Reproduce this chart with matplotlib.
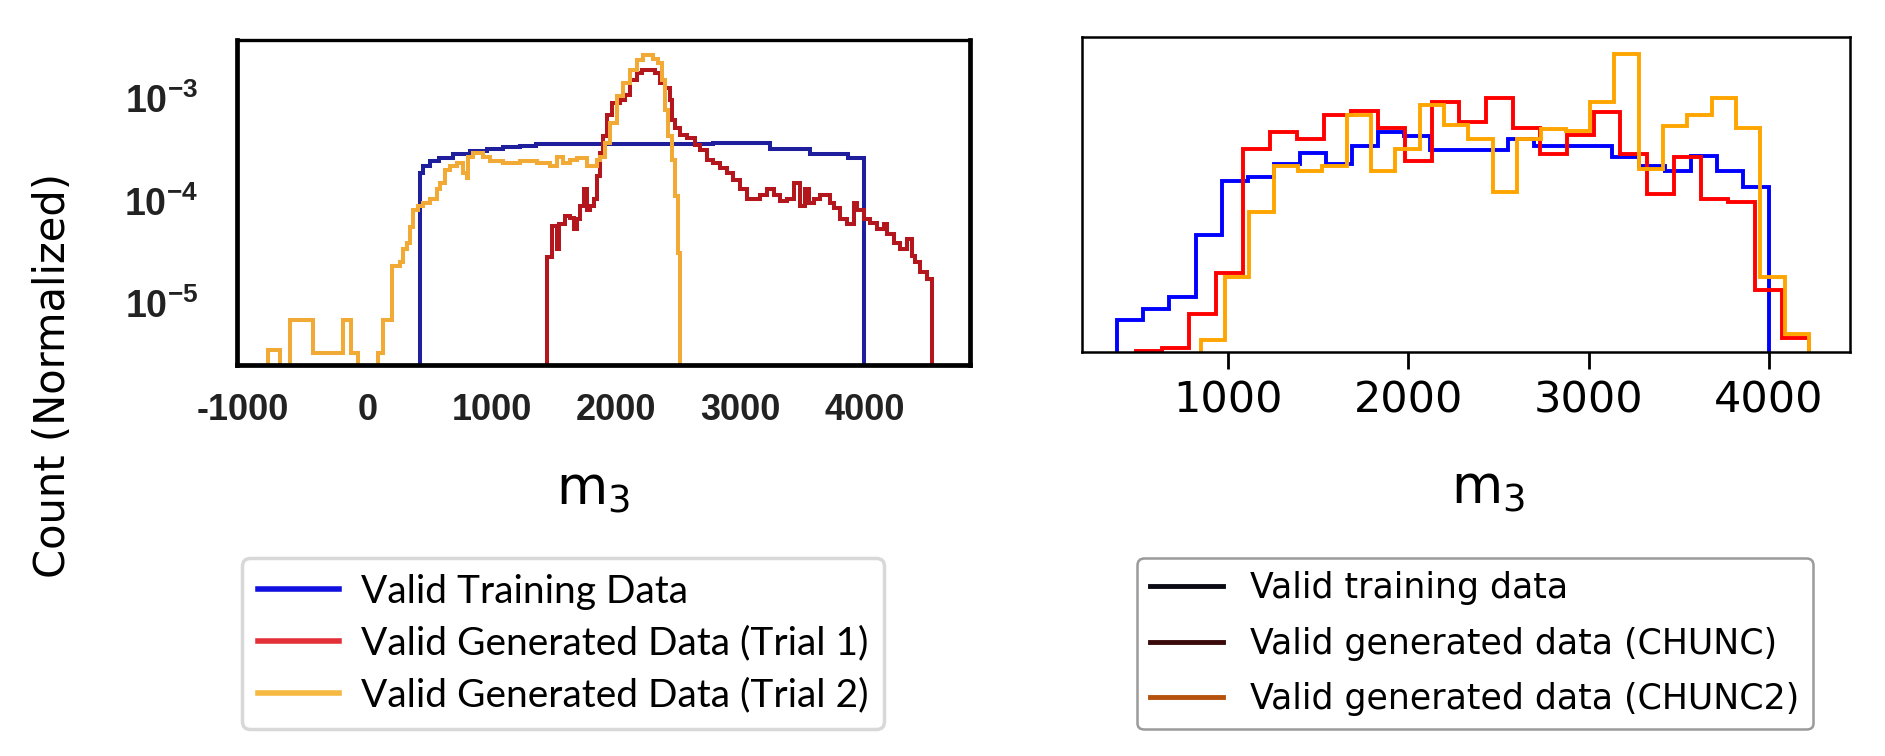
import numpy as np
import matplotlib
matplotlib.use("Agg")
import matplotlib.pyplot as plt
from matplotlib.lines import Line2D

plt.rcParams['mathtext.default'] = 'regular'

# ==========================================================
# Left panel: m3 histograms (log scale)
# ==========================================================

train_edges = [420, 450, 500, 580, 690, 825, 960, 1095, 1230, 1360,
               2780, 3240, 3565, 3865, 4000]
train_vals = [1.87e-4, 2.17e-4, 2.43e-4, 2.61e-4, 2.86e-4, 3.03e-4, 3.2e-4,
              3.32e-4, 3.45e-4, 3.55e-4, 3.66e-4, 3.2e-4, 2.86e-4, 2.61e-4]

trial1_edges = [1445, 1485, 1525, 1545, 1590, 1630, 1660, 1685, 1712, 1740,
                1765, 1795, 1820, 1847, 1873, 1900, 1925, 1965, 2030, 2073,
                2113, 2167, 2207, 2315, 2355, 2395, 2435, 2450, 2476, 2516,
                2570, 2637, 2677, 2731, 2785, 2839, 2892, 2946, 3000, 3054,
                3108, 3161, 3215, 3269, 3323, 3376, 3430, 3484, 3524, 3551,
                3591, 3645, 3726, 3753, 3806, 3860, 3914, 3941, 3995, 4048,
                4102, 4156, 4183, 4236, 4290, 4344, 4384, 4411, 4451, 4505,
                4546]
trial1_vals = [2.8e-5, 5.7e-5, 3.4e-5, 5.9e-5, 7.1e-5, 6.8e-5, 5.3e-5, 6.6e-5,
               8.9e-5, 1.29e-4, 8.2e-5, 8.9e-5, 1.03e-4, 1.74e-4, 2.92e-4,
               4.25e-4, 6.9e-4, 8.9e-4, 9.6e-4, 1.08e-3, 1.51e-3, 1.75e-3,
               1.88e-3, 1.75e-3, 1.40e-3, 1.25e-3, 9.6e-4, 6.2e-4, 5.1e-4,
               4.4e-4, 4.1e-4, 3.52e-4, 3.15e-4, 2.52e-4, 2.34e-4, 2.09e-4,
               1.87e-4, 1.61e-4, 1.29e-4, 1.03e-4, 1.03e-4, 1.15e-4, 1.29e-4,
               1.15e-4, 1.0e-4, 1.03e-4, 1.5e-4, 8.9e-5, 1.29e-4, 9.6e-5,
               1.03e-4, 1.15e-4, 9.6e-5, 8.5e-5, 6.6e-5, 5.9e-5, 9.6e-5,
               8.2e-5, 6.6e-5, 6.1e-5, 5.3e-5, 5.9e-5, 4.7e-5, 3.9e-5, 3.4e-5,
               4.2e-5, 2.9e-5, 2.5e-5, 2.0e-5, 1.72e-5]

trial2_edges = [-800, -707, -626, -438, -196, -129, -75, 86, 127, 200, 261,
                288, 315, 342, 369, 409, 449, 503, 557, 584, 624, 664, 718,
                772, 799, 812, 852, 933, 987, 1094, 1229, 1363, 1471, 1524,
                1578, 1632, 1686, 1766, 1847, 1871, 1911, 1952, 2005, 2059,
                2113, 2167, 2220, 2301, 2341, 2368, 2395, 2422, 2449, 2476,
                2503, 2516]
trial2_vals = [3.5e-6, 0, 6.8e-6, 3.3e-6, 6.8e-6, 3.3e-6, 0, 3.3e-6, 6.8e-6,
               2.3e-5, 2.5e-5, 3.4e-5, 3.9e-5, 5.5e-5, 8.2e-5, 8.9e-5, 9.6e-5,
               1.03e-4, 1.29e-4, 1.5e-4, 2.0e-4, 2.17e-4, 2.34e-4, 1.87e-4,
               1.67e-4, 2.7e-4, 2.92e-4, 2.7e-4, 2.43e-4, 2.34e-4, 2.43e-4,
               2.34e-4, 2.17e-4, 2.7e-4, 2.34e-4, 2.52e-4, 2.61e-4, 2.17e-4,
               2.52e-4, 2.7e-4, 3.66e-4, 5.7e-4, 1.04e-3, 1.40e-3, 1.88e-3,
               2.36e-3, 2.63e-3, 2.44e-3, 2.19e-3, 1.51e-3, 7.7e-4, 4.25e-4,
               2.52e-4, 1.11e-4, 3.1e-5]

# ==========================================================
# Right panel: 25-bin step histograms (arbitrary units)
# ==========================================================

n_bins = 25
train_range = (386, 4000)
chunc_range = (487, 4223)
chunc2_range = (849, 4223)

train_hist = [95, 127, 165, 348, 510, 522, 560, 593, 560, 615, 655, 645, 603,
              603, 603, 637, 615, 615, 615, 583, 555, 540, 585, 540, 493]
chunc_hist = [4, 13, 113, 235, 605, 655, 637, 707, 720, 667, 570, 747, 685,
              757, 667, 590, 647, 717, 590, 472, 583, 457, 447, 185, 43]
chunc2_hist = [37, 225, 418, 555, 540, 555, 707, 540, 607, 737, 677, 635, 478,
               635, 665, 660, 747, 890, 545, 675, 707, 757, 667, 225, 53]

left_ticks = [-1000, 0, 1000, 2000, 3000, 4000]
right_ticks = [1000, 2000, 3000, 4000]

left_labels = ["Valid Training Data", "Valid Generated Data (Trial 1)",
               "Valid Generated Data (Trial 2)"]
right_labels = ["Valid training data", "Valid generated data (CHUNC)",
                "Valid generated data (CHUNC2)"]

# ===========================
# Figure
# ===========================

fig = plt.figure(figsize=(18.85, 7.56), dpi=100)

narrow = ['Liberation Sans', 'DejaVu Sans']

# ---- left panel
ax1 = fig.add_axes([0.1257, 0.5172, 0.3889, 0.4299])
ax1.set_yscale('log')
ax1.stairs(train_vals, train_edges, baseline=1e-8, color='#1f1f9e', lw=2.9)
ax1.stairs(trial1_vals, trial1_edges, baseline=1e-8, color='#b3161c', lw=2.9)
ax1.stairs(trial2_vals, trial2_edges, baseline=1e-8, color='#f0aa35', lw=2.9)
ax1.set_xlim(-1050, 4850)
ax1.set_ylim(2.5e-6, 3.7e-3)
ax1.set_xticks(left_ticks)
ax1.set_xticklabels([str(t) for t in left_ticks], family=narrow,
                    fontsize=26, fontweight='bold', color='#222222')
ax1.set_yticks([1e-5, 1e-4, 1e-3])
ax1.set_yticklabels(['$10^{-5}$', '$10^{-4}$', '$10^{-3}$'], family=narrow,
                    fontsize=27, fontweight='bold', color='#222222')
ax1.yaxis.set_minor_locator(plt.NullLocator())
ax1.tick_params(axis='both', length=0)
ax1.tick_params(axis='x', pad=20)
ax1.tick_params(axis='y', pad=28)
for s in ax1.spines.values():
    s.set_linewidth(3.4)
ax1.spines['top'].set_linewidth(2.4)

# ---- right panel
ax2 = fig.add_axes([0.574, 0.5344, 0.4074, 0.4167])
ax2.stairs(train_hist, np.linspace(*train_range, n_bins + 1),
           color='#0000ff', lw=2.8)
ax2.stairs(chunc_hist, np.linspace(*chunc_range, n_bins + 1),
           color='#ff0000', lw=2.8)
ax2.stairs(chunc2_hist, np.linspace(*chunc2_range, n_bins + 1),
           color='#ffa500', lw=2.8)
ax2.set_xlim(190, 4450)
ax2.set_ylim(0, 940)
ax2.set_yticks([])
ax2.set_xticks(right_ticks)
ax2.tick_params(axis='x', length=12, width=2, labelsize=31, pad=8)
for s in ax2.spines.values():
    s.set_linewidth(1.8)

# ---- axis labels
fig.text(0.3146, 0.352, 'm$_3$', fontsize=38, ha='center', va='center')
fig.text(0.7894, 0.353, 'm$_3$', fontsize=38, ha='center', va='center')
fig.text(0.028, 1 - 375 / 756, 'Count (Normalized)', fontsize=30,
         rotation=90, ha='center', va='center')

# ---- legends
left_colors = ['#1010e0', '#e33038', '#f5b840']
left_handles = [Line2D([], [], color=c, lw=4) for c in left_colors]
leg1 = fig.legend(left_handles, left_labels, loc='upper left',
                  bbox_to_anchor=(0.1284, 0.2619), prop={'family': 'Lato', 'size': 28},
                  handlelength=2.1, handletextpad=0.55, labelspacing=0.41,
                  borderpad=0.4, borderaxespad=0, framealpha=1, fancybox=True)
leg1.get_frame().set_edgecolor('#d8d8d8')
leg1.get_frame().set_linewidth(2.5)

right_colors = ['#0a0a14', '#3a0a0a', '#b5520e']
right_handles = [Line2D([], [], color=c, lw=3.5) for c in right_colors]
leg2 = fig.legend(right_handles, right_labels, loc='upper left',
                  bbox_to_anchor=(0.6032, 0.2619), prop={'family': 'DejaVu Sans', 'size': 25},
                  handlelength=2.1, handletextpad=0.78, labelspacing=0.62,
                  borderpad=0.38, borderaxespad=0, framealpha=1, fancybox=True)
leg2.get_frame().set_edgecolor('#9a9a9a')
leg2.get_frame().set_linewidth(1.8)

fig.savefig('out.png', dpi=100)
